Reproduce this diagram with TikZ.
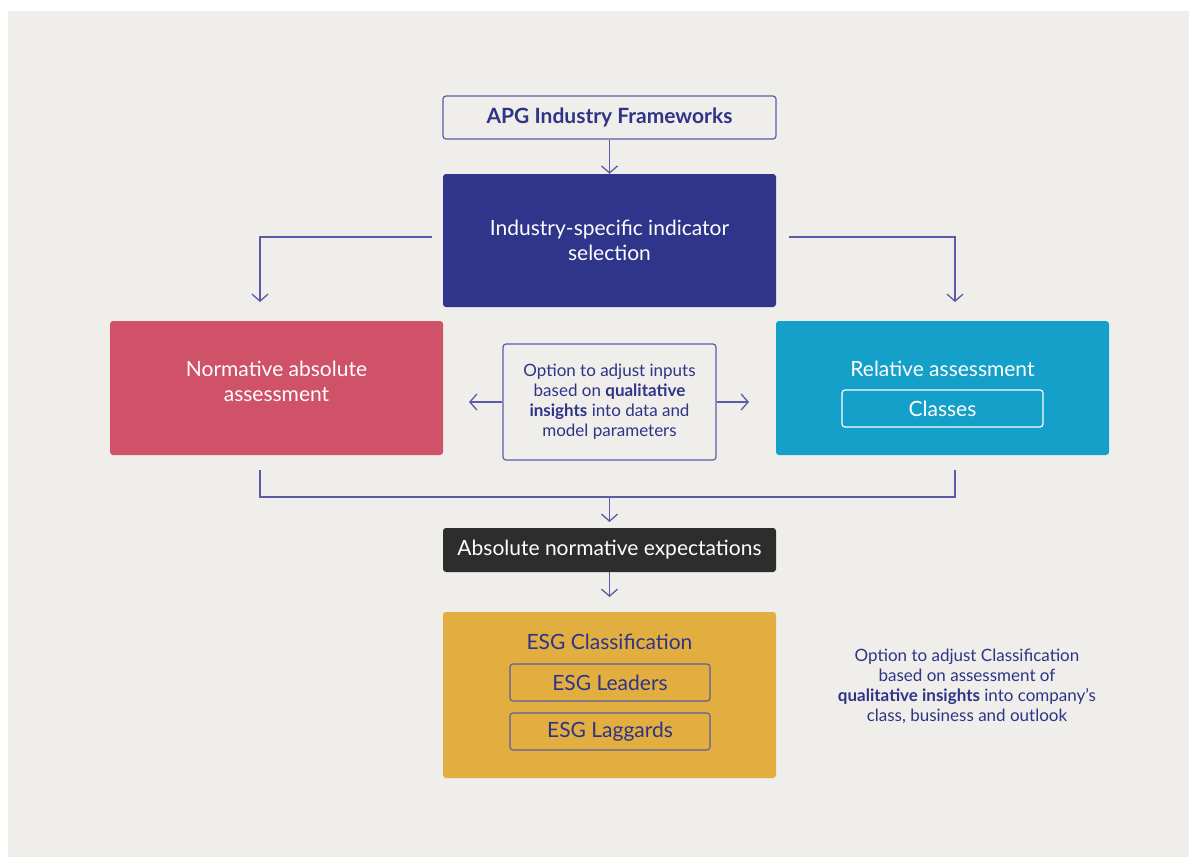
\documentclass[tikz,border=0pt]{standalone}
\usepackage{fontspec}
\setmainfont{Lato}
\usetikzlibrary{arrows.meta}
\definecolor{bgc}{HTML}{EFEEEA}
\definecolor{navy}{HTML}{2E3487}
\definecolor{lnc}{HTML}{5B5BA8}
\definecolor{indigo}{HTML}{2E358A}
\definecolor{pink}{HTML}{CF5268}
\definecolor{blu}{HTML}{14A0C8}
\definecolor{dark}{HTML}{2D2D2D}
\definecolor{gold}{HTML}{E3AE40}
\tikzset{
  box/.style={rounded corners=3pt, inner sep=0pt, align=center},
  conn/.style={draw=lnc, line width=1.3pt},
  arr/.style={conn, -{Straight Barb[length=7pt,width=16pt,line width=1.3pt]}},
  btxt/.style={font=\fontsize{21}{25}\selectfont},
  stxt/.style={font=\fontsize{17}{20}\selectfont},
}
\begin{document}
\begin{tikzpicture}[x=1pt,y=-1pt]
\useasboundingbox (0,0) rectangle (1189,857);
\fill[white] (0,0) rectangle (1189,857);
\fill[bgc] (8,11) rectangle (1189,857);

% APG
\node[box, draw=lnc, line width=1.2pt, fill=bgc, minimum width=333pt, minimum height=43pt, text=navy, font=\bfseries\fontsize{21}{25}\selectfont] (apg) at (609.5,117.5) {APG Industry Frameworks};
% indigo
\node[box, fill=indigo, minimum width=333pt, minimum height=133pt, text=white, btxt] (ind) at (609.5,240.5) {Industry-specific indicator\\selection};
% pink
\node[box, fill=pink, minimum width=333pt, minimum height=134pt] (norm) at (276.5,388) {};
\node[text=white, btxt, align=center] (normt) at (276.5,381) {Normative absolute\\assessment};
% blue
\node[box, fill=blu, minimum width=333pt, minimum height=134pt] (rel) at (942.5,388) {};
\node[text=white, btxt] (relt) at (942.5,369) {Relative assessment};
\node[box, draw=white, line width=1.2pt, minimum width=201pt, minimum height=37pt, text=white, btxt] (cls) at (942.5,408.5) {Classes};
% center
\node[box, draw=lnc, line width=1.2pt, fill=bgc, minimum width=213pt, minimum height=116pt, text=navy, stxt] (opt) at (609.5,402) {Option to adjust inputs\\based on \textbf{qualitative}\\\textbf{insights} into data and\\model parameters};
% dark
\node[box, fill=dark, minimum width=333pt, minimum height=44pt, text=white, btxt] (abs) at (609.5,550) {Absolute normative expectations};
% gold
\node[box, fill=gold, minimum width=333pt, minimum height=166pt] (esg) at (609.5,695) {};
\node[text=navy, btxt] (esgt) at (609.5,642) {ESG Classification};
\node[box, draw=navy!80, line width=1.1pt, minimum width=200pt, minimum height=37pt, text=navy, btxt] (lead) at (610,682.5) {ESG Leaders};
\node[box, draw=navy!80, line width=1.1pt, minimum width=200pt, minimum height=37pt, text=navy, btxt] (lag) at (610,731.5) {ESG Laggards};
% right note
\node[text=navy, align=center, stxt] (note) at (967,686) {Option to adjust Classification\\based on assessment of\\\textbf{qualitative insights} into company's\\class, business and outlook};

% connectors
\coordinate (oL) at (469,402);
\coordinate (oR) at (749,402);
\draw[arr] (apg.south) -- (ind.north);
\coordinate (lA) at (432,237);
\coordinate (rA) at (789,237);
\draw[arr] (lA) -| (260,302);
\draw[arr] (rA) -| (955,302);
\draw[arr] (opt.west) -- (oL);
\draw[arr] (opt.east) -- (oR);
\draw[conn] (260,470) |- (955,497) -- (955,470);
\draw[arr] (609.5,497) -- (609.5,522);
\draw[arr] (abs.south) -- (609.5,597);
\end{tikzpicture}
\end{document}
